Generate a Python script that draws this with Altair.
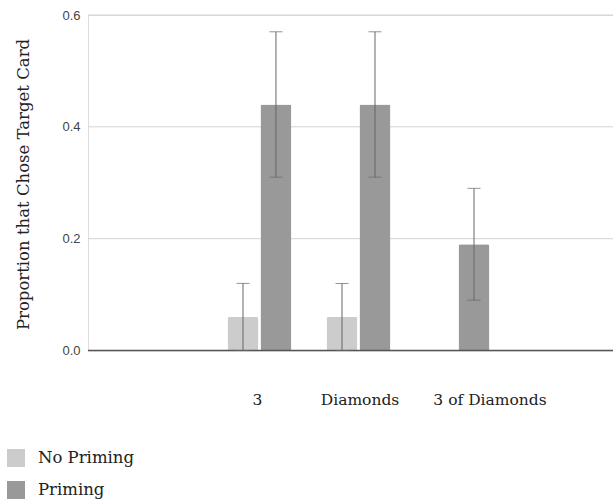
import altair as alt
import pandas as pd

categories = ["3", "Diamonds", "3 of Diamonds"]
conditions = ["No Priming", "Priming"]
no_priming = [0.06, 0.06, 0.0]
priming = [0.44, 0.44, 0.19]
no_priming_lo = [0.0, 0.0, None]
no_priming_hi = [0.12, 0.12, None]
priming_lo = [0.31, 0.31, 0.09]
priming_hi = [0.57, 0.57, 0.29]
y_ticks = [0.0, 0.2, 0.4, 0.6]
colors = ["#cccccc", "#999999"]

rows = []
for i, c in enumerate(categories):
    rows.append({"cat": c, "cond": conditions[0], "val": no_priming[i],
                 "lo": no_priming_lo[i], "hi": no_priming_hi[i]})
    rows.append({"cat": c, "cond": conditions[1], "val": priming[i],
                 "lo": priming_lo[i], "hi": priming_hi[i]})
df = pd.DataFrame(rows)

SERIF = "DejaVu Serif"
SANS = "Liberation Sans"

label_shift = {
    "condition": [
        {"test": "datum.value === '3 of Diamonds'", "value": 32.5},
        {"test": "datum.value === 'Diamonds'", "value": 1.5},
    ],
    "value": -2,
}

xscale = alt.Scale(domain=categories, paddingInner=0.354, paddingOuter=0, range=[139.5, 401.5])
xenc = alt.X("cat:N", sort=categories, scale=xscale,
             axis=alt.Axis(title=None, labelAngle=0, ticks=False, domain=False,
                           labelFont=SERIF, labelFontSize=15.5, labelColor="#222222",
                           labelPadding=42, grid=False, labelOffset=label_shift))
yscale = alt.Scale(domain=[0, 0.6], nice=False)
xoff = alt.XOffset("cond:N", sort=conditions,
                   scale=alt.Scale(domain=conditions, paddingInner=0.06, paddingOuter=0))

grid = alt.Chart(pd.DataFrame({"g": y_ticks[1:]})).mark_rule(color="#d3d3d3", strokeWidth=1).encode(
    y=alt.Y("g:Q", scale=yscale), x=alt.value(0), x2=alt.value(525))

base = alt.Chart(df)

bars = base.mark_bar(cornerRadius=2).encode(
    x=xenc,
    xOffset=xoff,
    y=alt.Y("val:Q", scale=yscale,
            axis=alt.Axis(title="Proportion that Chose Target Card", values=y_ticks,
                          format=".1f", ticks=False, domain=False, grid=False,
                          labelFont=SANS, labelFontSize=13, labelColor="#444444", labelPadding=8,
                          titleFont=SERIF, titleFontSize=16.5, titleFontWeight="normal",
                          titleColor="#222222", titleX=-65, titleY=169, titleAngle=-90,
                          titleAlign="center", titleBaseline="middle")),
    color=alt.Color("cond:N", sort=conditions,
                    scale=alt.Scale(domain=conditions, range=colors),
                    legend=alt.Legend(title=None, orient="none", legendX=-81, legendY=434,
                                      symbolType="square", symbolSize=324, symbolStrokeWidth=0,
                                      labelFont=SERIF, labelFontSize=16.5, labelColor="#222222",
                                      labelOffset=13, rowPadding=14)),
)

baseline = alt.Chart(pd.DataFrame({"z": [0]})).mark_rule(color="#555555", strokeWidth=1.5).encode(
    y=alt.Y("z:Q", scale=yscale), x=alt.value(0), x2=alt.value(525))

err = base.transform_filter("datum.hi != null")

rules = err.mark_rule(color="#666666", strokeWidth=1).encode(
    x=alt.X("cat:N", sort=categories), xOffset=xoff,
    y=alt.Y("lo:Q", scale=yscale), y2="hi:Q")
cap_hi = err.mark_tick(color="#666666", thickness=1, size=13).encode(
    x=alt.X("cat:N", sort=categories), xOffset=xoff, y=alt.Y("hi:Q", scale=yscale))
cap_lo = err.mark_tick(color="#666666", thickness=1, size=13).encode(
    x=alt.X("cat:N", sort=categories), xOffset=xoff, y=alt.Y("lo:Q", scale=yscale))

chart = alt.layer(grid, bars, baseline, rules, cap_hi, cap_lo).properties(
    width=525, height=335.5,
    autosize=alt.AutoSizeParams(type="none"),
    padding={"left": 88, "top": 15, "right": 0, "bottom": 150},
).configure_view(stroke=None).configure(background="white")

chart.save("out.html", embed_options={"renderer": "svg", "actions": False})
